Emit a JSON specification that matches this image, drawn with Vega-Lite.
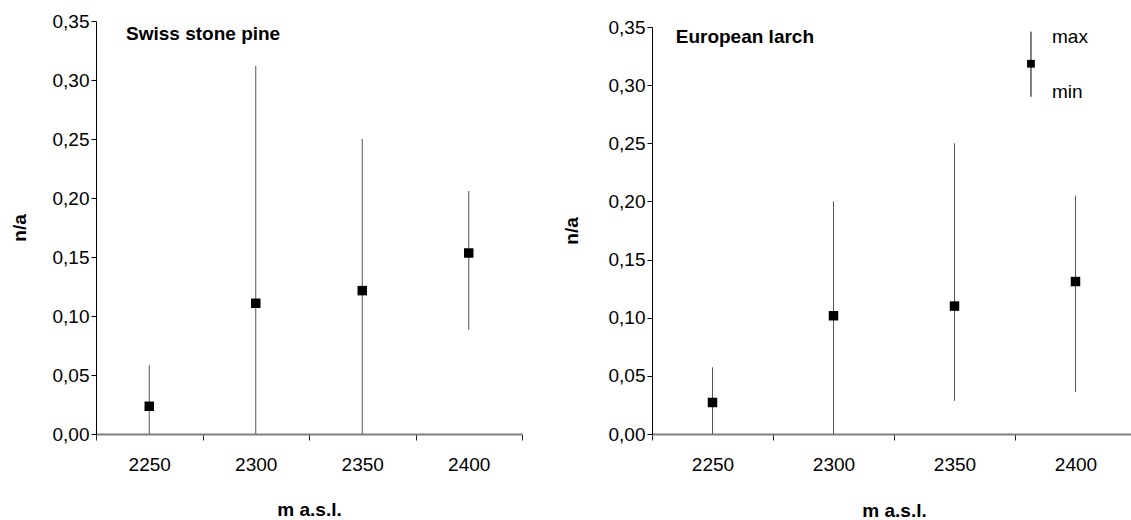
{
  "$schema": "https://vega.github.io/schema/vega-lite/v6.json",
  "background": "white",
  "padding": {"left": 10, "top": 12, "right": 0, "bottom": 0},
  "spacing": 39,
  "datasets": {
    "pine": [
      {"alt": 2250, "mean": 0.0235, "min": 0.0, "max": 0.0584},
      {"alt": 2300, "mean": 0.1108, "min": 0.0, "max": 0.312},
      {"alt": 2350, "mean": 0.1215, "min": 0.0, "max": 0.25},
      {"alt": 2400, "mean": 0.1534, "min": 0.0881, "max": 0.2059}
    ],
    "larch": [
      {"alt": 2250, "mean": 0.0271, "min": 0.0, "max": 0.0573},
      {"alt": 2300, "mean": 0.1017, "min": 0.0, "max": 0.2},
      {"alt": 2350, "mean": 0.11, "min": 0.0285, "max": 0.25},
      {"alt": 2400, "mean": 0.1311, "min": 0.0363, "max": 0.205}
    ],
    "legend": [
      {"alt": 2381.6, "mean": 0.3184, "min": 0.29, "max": 0.346}
    ],
    "legendText": [
      {"alt": 2390.3, "v": 0.3417, "label": "max"},
      {"alt": 2390.3, "v": 0.2944, "label": "min"}
    ],
    "titleL": [{"alt": 2239.1, "v": 0.3335, "label": "Swiss stone pine"}],
    "titleR": [{"alt": 2234.8, "v": 0.336, "label": "European larch"}]
  },
  "config": {
    "view": {"stroke": null},
    "font": "Liberation Sans",
    "axis": {
      "grid": false,
      "labelFont": "Liberation Sans",
      "labelFontSize": 19,
      "labelColor": "black",
      "titleFont": "Liberation Sans",
      "titleFontSize": 19,
      "titleFontWeight": "bold",
      "titleColor": "black"
    }
  },
  "hconcat": [
    {
      "width": 426,
      "height": 413,
      "layer": [
        {
          "data": {"name": "pine"},
          "mark": {"type": "rule", "color": "#555555", "strokeWidth": 1},
          "encoding": {
            "x": {
              "field": "alt", "type": "quantitative",
              "scale": {"domain": [2225, 2425], "nice": false, "zero": false},
              "title": "m a.s.l.",
              "axis": {
                "values": [2225, 2250, 2275, 2300, 2325, 2350, 2375, 2400, 2425],
                "labelExpr": "datum.value % 50 === 0 ? '' + datum.value : ''",
                "labelFlush": false,
                "labelOverlap": false,
                "domainColor": "#808080",
                "domainWidth": 2,
                "tickColor": "#222222",
                "tickWidth": 1,
                "tickSize": 6,
                "tickOpacity": {"condition": {"test": "datum.value % 50 === 0", "value": 0}, "value": 1},
                "labelPadding": 15,
                "titlePadding": 26
              }
            },
            "y": {
              "field": "min", "type": "quantitative",
              "scale": {"domain": [0, 0.35], "nice": false},
              "title": "n/a",
              "axis": {
                "values": [0, 0.05, 0.1, 0.15, 0.2, 0.25, 0.3, 0.35],
                "labelExpr": "replace(format(datum.value, '.2f'), '.', ',')",
                "domainColor": "black",
                "domainWidth": 1,
                "tickColor": "black",
                "tickSize": 5,
                "labelPadding": 2,
                "titlePadding": 23
              }
            },
            "y2": {"field": "max"}
          }
        },
        {
          "data": {"name": "pine"},
          "mark": {"type": "point", "shape": "square", "filled": true, "color": "black", "size": 90, "opacity": 1},
          "encoding": {
            "x": {"field": "alt", "type": "quantitative"},
            "y": {"field": "mean", "type": "quantitative"}
          }
        },
        {
          "data": {"name": "titleL"},
          "mark": {"type": "text", "align": "left", "baseline": "alphabetic", "fontWeight": "bold", "fontSize": 19, "font": "Liberation Sans", "color": "black"},
          "encoding": {
            "x": {"field": "alt", "type": "quantitative"},
            "y": {"field": "v", "type": "quantitative"},
            "text": {"field": "label"}
          }
        }
      ]
    },
    {
      "width": 484,
      "height": 413,
      "layer": [
        {
          "data": {"name": "larch"},
          "mark": {"type": "rule", "color": "#555555", "strokeWidth": 1},
          "encoding": {
            "x": {
              "field": "alt", "type": "quantitative",
              "scale": {"domain": [2225, 2425], "nice": false, "zero": false},
              "title": "m a.s.l.",
              "axis": {
                "values": [2225, 2250, 2275, 2300, 2325, 2350, 2375, 2400, 2425],
                "labelExpr": "datum.value % 50 === 0 ? '' + datum.value : ''",
                "labelFlush": false,
                "labelOverlap": false,
                "domainColor": "#808080",
                "domainWidth": 2,
                "tickColor": "#222222",
                "tickWidth": 1,
                "tickSize": 6,
                "tickOpacity": {"condition": {"test": "datum.value % 50 === 0", "value": 0}, "value": 1},
                "labelPadding": 15,
                "titlePadding": 27
              }
            },
            "y": {
              "field": "min", "type": "quantitative",
              "scale": {"domain": [0, 0.35], "nice": false, "range": [413, 6]},
              "title": "n/a",
              "axis": {
                "values": [0, 0.05, 0.1, 0.15, 0.2, 0.25, 0.3, 0.35],
                "labelExpr": "replace(format(datum.value, '.2f'), '.', ',')",
                "domainColor": "black",
                "domainWidth": 1,
                "tickColor": "black",
                "tickSize": 5,
                "labelPadding": 2,
                "titlePadding": 27
              }
            },
            "y2": {"field": "max"}
          }
        },
        {
          "data": {"name": "larch"},
          "mark": {"type": "point", "shape": "square", "filled": true, "color": "black", "size": 90, "opacity": 1},
          "encoding": {
            "x": {"field": "alt", "type": "quantitative"},
            "y": {"field": "mean", "type": "quantitative"}
          }
        },
        {
          "data": {"name": "legend"},
          "mark": {"type": "rule", "color": "black", "strokeWidth": 1},
          "encoding": {
            "x": {"field": "alt", "type": "quantitative"},
            "y": {"field": "min", "type": "quantitative"},
            "y2": {"field": "max"}
          }
        },
        {
          "data": {"name": "legend"},
          "mark": {"type": "point", "shape": "square", "filled": true, "color": "black", "size": 60, "opacity": 1},
          "encoding": {
            "x": {"field": "alt", "type": "quantitative"},
            "y": {"field": "mean", "type": "quantitative"}
          }
        },
        {
          "data": {"name": "legendText"},
          "mark": {"type": "text", "align": "left", "baseline": "middle", "fontSize": 19, "font": "Liberation Sans", "color": "black"},
          "encoding": {
            "x": {"field": "alt", "type": "quantitative"},
            "y": {"field": "v", "type": "quantitative"},
            "text": {"field": "label"}
          }
        },
        {
          "data": {"name": "titleR"},
          "mark": {"type": "text", "align": "left", "baseline": "alphabetic", "fontWeight": "bold", "fontSize": 19, "font": "Liberation Sans", "color": "black"},
          "encoding": {
            "x": {"field": "alt", "type": "quantitative"},
            "y": {"field": "v", "type": "quantitative"},
            "text": {"field": "label"}
          }
        }
      ]
    }
  ]
}
